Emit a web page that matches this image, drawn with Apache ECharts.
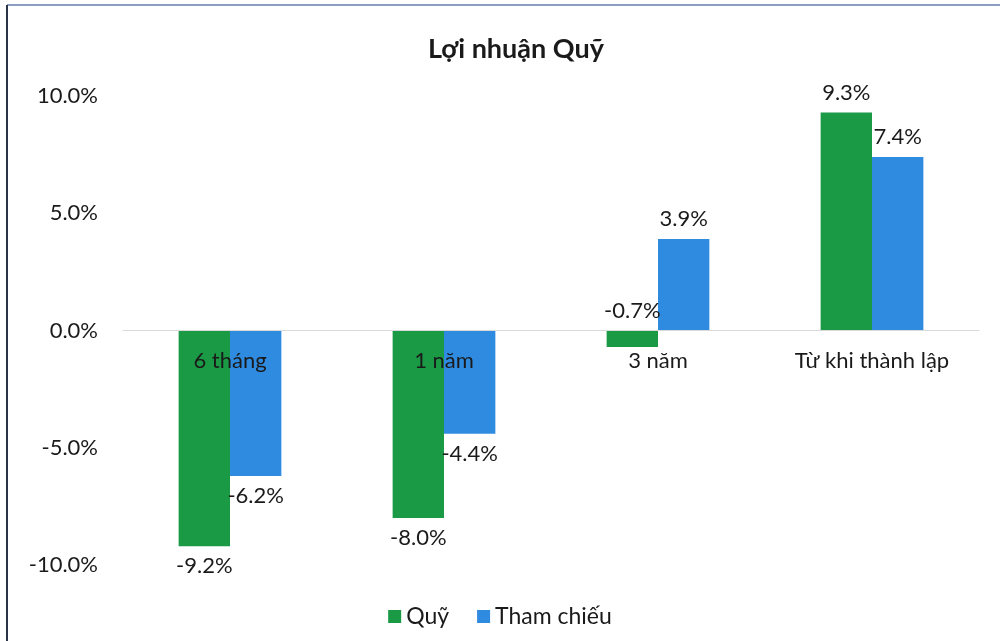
<!DOCTYPE html>
<html>
<head>
<meta charset="utf-8">
<script src="https://cdn.jsdelivr.net/npm/echarts@6/dist/echarts.min.js"></script>
<style>
html,body{margin:0;padding:0;background:#fff;}
#c{width:1000px;height:641px;}
</style>
</head>
<body>
<div id="c"></div>
<script>
const categories = ['6 tháng', '1 năm', '3 năm', 'Từ khi thành lập'];
const seriesNames = ['Quỹ', 'Tham chiếu'];
const fundValues = [-9.2, -8.0, -0.7, 9.3];
const benchValues = [-6.2, -4.4, 3.9, 7.4];
const yTicks = [-10, -5, 0, 5, 10];

const FONT = 'Lato, "Open Sans", sans-serif';
const chart = echarts.init(document.getElementById('c'), null, {renderer: 'canvas'});

const GRID_TOP = 96, GRID_BOTTOM = 76, H = 641;
const plotH = H - GRID_TOP - GRID_BOTTOM;
const yMin = yTicks[0], yMax = yTicks[yTicks.length - 1];
// distance from plot bottom to the zero line, derived from the axis scale
const zeroOffset = plotH * (0 - yMin) / (yMax - yMin);

function mkData(vals) {
  return vals.map(v => ({
    value: v,
    label: { position: v < -1 ? 'bottom' : 'top' }
  }));
}
const labelStyle = {
  show: true,
  formatter: p => p.value.toFixed(1) + '%',
  fontSize: 22,
  color: '#1a1a1a',
  fontFamily: FONT,
  distance: 9
};

chart.setOption({
  backgroundColor: '#ffffff',
  animation: false,
  title: {
    text: 'Lợi nhuận Quỹ',
    left: 423,
    top: 31,
    textStyle: { fontSize: 27, fontWeight: 'bold', color: '#1a1a1a', fontFamily: FONT }
  },
  legend: {
    data: seriesNames,
    bottom: 8,
    left: 'center',
    itemWidth: 13,
    itemHeight: 13,
    itemGap: 28,
    icon: 'rect',
    textStyle: { fontSize: 23, color: '#1a1a1a', fontFamily: FONT }
  },
  grid: { left: 123, right: 21, top: GRID_TOP, bottom: GRID_BOTTOM, containLabel: false },
  xAxis: {
    type: 'category',
    data: categories,
    z: 10,
    offset: -zeroOffset,
    axisLine: { onZero: false, lineStyle: { color: '#d9d9d9', width: 1 } },
    axisTick: { show: false },
    axisLabel: { fontSize: 22, color: '#1a1a1a', fontFamily: FONT, margin: 19 },
    splitLine: { show: false }
  },
  yAxis: {
    type: 'value',
    min: yMin,
    max: yMax,
    interval: 5,
    axisLine: { show: false },
    axisTick: { show: false },
    splitLine: { show: false },
    axisLabel: {
      fontSize: 22, color: '#1a1a1a', fontFamily: FONT, margin: 25,
      formatter: v => v.toFixed(1) + '%'
    }
  },
  series: [
    {
      name: seriesNames[0], type: 'bar', data: mkData(fundValues),
      itemStyle: { color: '#1b9a46' },
      barGap: '0%', barCategoryGap: '52%',
      label: labelStyle
    },
    {
      name: seriesNames[1], type: 'bar', data: mkData(benchValues),
      itemStyle: { color: '#2f8be0' },
      barGap: '0%', barCategoryGap: '52%',
      label: labelStyle
    }
  ],
  graphic: [
    { type: 'line', shape: { x1: 7, y1: 5, x2: 1000, y2: 5 }, style: { stroke: '#8d9cc2', lineWidth: 2 } },
    { type: 'line', shape: { x1: 7, y1: 5, x2: 7, y2: 641 }, style: { stroke: '#2b3346', lineWidth: 2 } }
  ]
});
</script>
</body>
</html>
